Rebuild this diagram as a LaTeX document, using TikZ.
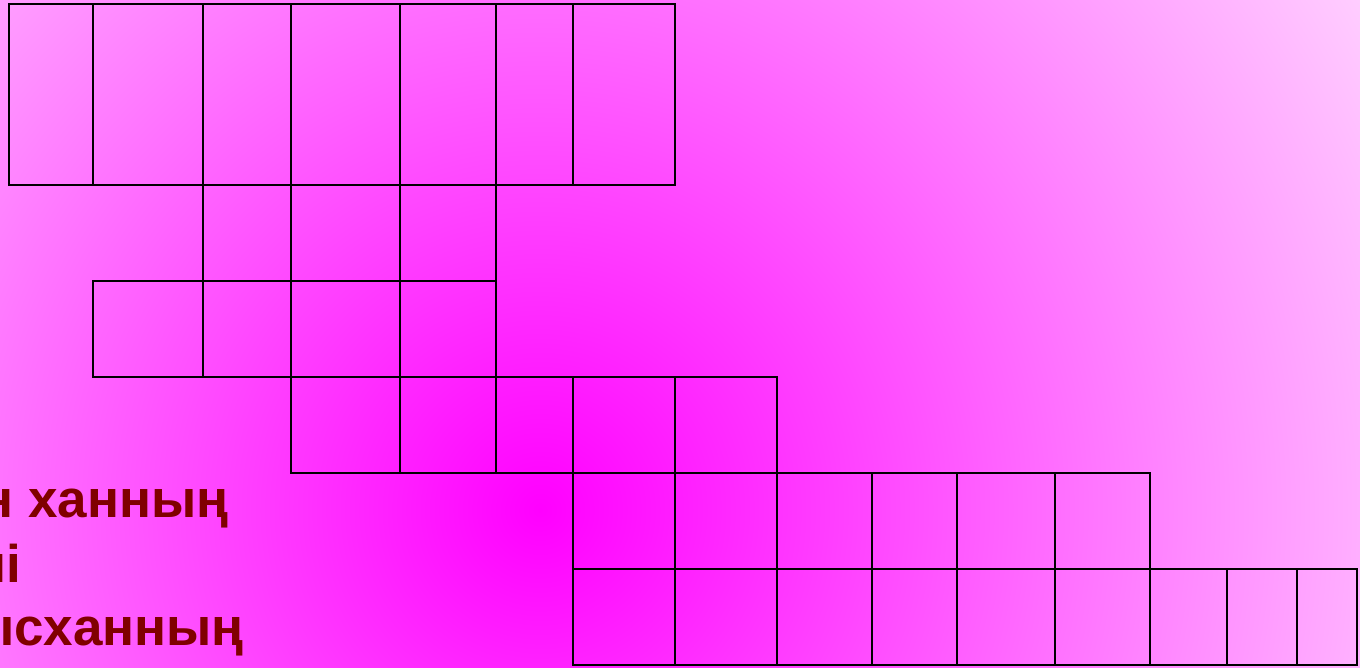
\documentclass[tikz,border=0pt]{standalone}
\usepackage{fontspec}
\setmainfont{Liberation Sans}
\usepackage{xcolor}
\definecolor{clueRed}{RGB}{128,0,0}
\tikzstyle{cell} = [draw=black, line width=2.5pt]
\tikzstyle{clue} = [text=clueRed, inner sep=0pt, anchor=base east, font=\bfseries\fontsize{53}{64}\selectfont]

\begin{document}
\begin{tikzpicture}[x=1pt, y=-1pt]
    \useasboundingbox (0,0) rectangle (1360,667);
    \clip (0,0) rectangle (1360,667);
    \shade [inner color=magenta, outer color=white] (540,510) circle [radius=1200];

    % row 1
    \foreach \a/\b in {9/93, 93/203, 203/291, 291/400, 400/496, 496/573, 573/675}
        \draw [cell] (\a,4) rectangle (\b,185);
    % row 2
    \foreach \a/\b in {203/291, 291/400, 400/496}
        \draw [cell] (\a,185) rectangle (\b,281);
    % row 3
    \foreach \a/\b in {93/203, 203/291, 291/400, 400/496}
        \draw [cell] (\a,281) rectangle (\b,377);
    % row 4
    \foreach \a/\b in {291/400, 400/496, 496/573, 573/675, 675/777}
        \draw [cell] (\a,377) rectangle (\b,473);
    % row 5
    \foreach \a/\b in {573/675, 675/777, 777/872, 872/957, 957/1055, 1055/1150}
        \draw [cell] (\a,473) rectangle (\b,569);
    % row 6
    \foreach \a/\b in {573/675, 675/777, 777/872, 872/957, 957/1055, 1055/1150, 1150/1227, 1227/1297, 1297/1357}
        \draw [cell] (\a,569) rectangle (\b,665);

    \node (line1) [clue] at (229,517) {Тұрсын ханның};
    \node (line2) [clue] at (21,582) {өлкені};
    \node (line3) [clue] at (244,645) {Шыңғысханның};
\end{tikzpicture}
\end{document}
